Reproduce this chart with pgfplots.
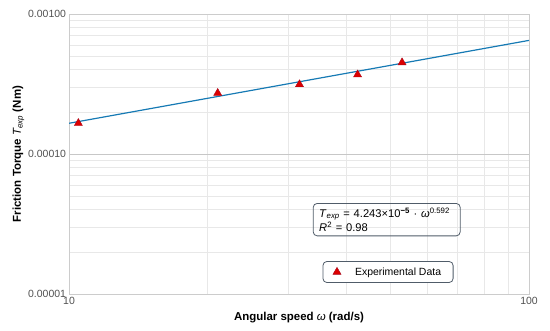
\documentclass[border=0pt]{standalone}
\usepackage{fontspec}
\setmainfont{Liberation Sans}
\usepackage{pgfplots}
\pgfplotsset{compat=1.18}
\definecolor{fitblue}{RGB}{22,122,180}
\definecolor{mkred}{RGB}{220,0,0}
\definecolor{mkedge}{RGB}{170,10,30}
\definecolor{boxgray}{RGB}{80,92,105}
\definecolor{tickgray}{RGB}{80,80,80}
\newcommand{\mi}[1]{{\mdseries\itshape #1}}
\begin{document}
\begin{tikzpicture}
\path[use as bounding box] (-69bp,-37bp) rectangle (481bp,294bp);
\begin{axis}[
  at={(0,0)}, anchor=south west,
  xmode=log, ymode=log,
  width=460bp, height=280bp, scale only axis,
  xmin=10, xmax=100, ymin=1e-5, ymax=1e-3,
  xtick={10,100}, xticklabels={10,100},
  ytick={1e-5,1e-4,1e-3}, yticklabels={0.00001,0.00010,0.00100},
  major tick length=0pt, minor tick length=0pt,
  xmajorgrids, ymajorgrids, xminorgrids, yminorgrids,
  major grid style={draw=black!22, line width=0.9pt},
  minor grid style={draw=black!9, line width=0.6pt},
  axis line style={draw=black!20, line width=0.9pt},
  tick label style={font=\fontsize{10.5}{12}\selectfont, text=tickgray},
  xticklabel style={yshift=0bp},
  yticklabel style={xshift=0.5bp},
  xlabel={\textbf{Angular speed \mi{ω} (rad/s)}},
  ylabel={\textbf{Friction Torque \mi{T}\textsubscript{\mi{exp}} (Nm)}},
  label style={font=\fontsize{11.5}{13}\selectfont},
  xlabel style={yshift=-0.5bp},
  ylabel style={yshift=-3bp},
  legend style={at={(rel axis cs:0.6935,0.0786)}, anchor=center, draw=boxgray, line width=0.8pt,
     rounded corners=4bp, inner xsep=10bp, inner ysep=4bp,
     font=\fontsize{10.5}{12}\selectfont, legend cell align=left},
]
\addplot[fitblue, line width=1.2pt, forget plot] coordinates {(10,1.658e-4) (100,6.48e-4)};
\addplot[only marks, mark=triangle*, mark size=4.7bp, mark options={fill=mkred, draw=mkedge, line width=0.4pt}] coordinates {
(10.48,1.66e-4) (21.05,2.72e-4) (31.7,3.14e-4) (42.4,3.69e-4) (52.97,4.50e-4)};
\addlegendentry{\hspace{12bp}Experimental Data}
\node[draw=boxgray, line width=0.8pt, rounded corners=4bp, anchor=north west,
  text width=135bp, inner xsep=6bp, inner ysep=4.5bp, align=left,
  font=\fontsize{11.2}{14}\selectfont]
  at (rel axis cs:0.530,0.325)
  {\textit{T}\textsubscript{\textit{exp}} = 4.243×10\textsuperscript{\textbf{−5}} · \textit{ω}\textsuperscript{0.592}\\
   \textit{R}\textsuperscript{2} = 0.98};
\end{axis}
\end{tikzpicture}
\end{document}
